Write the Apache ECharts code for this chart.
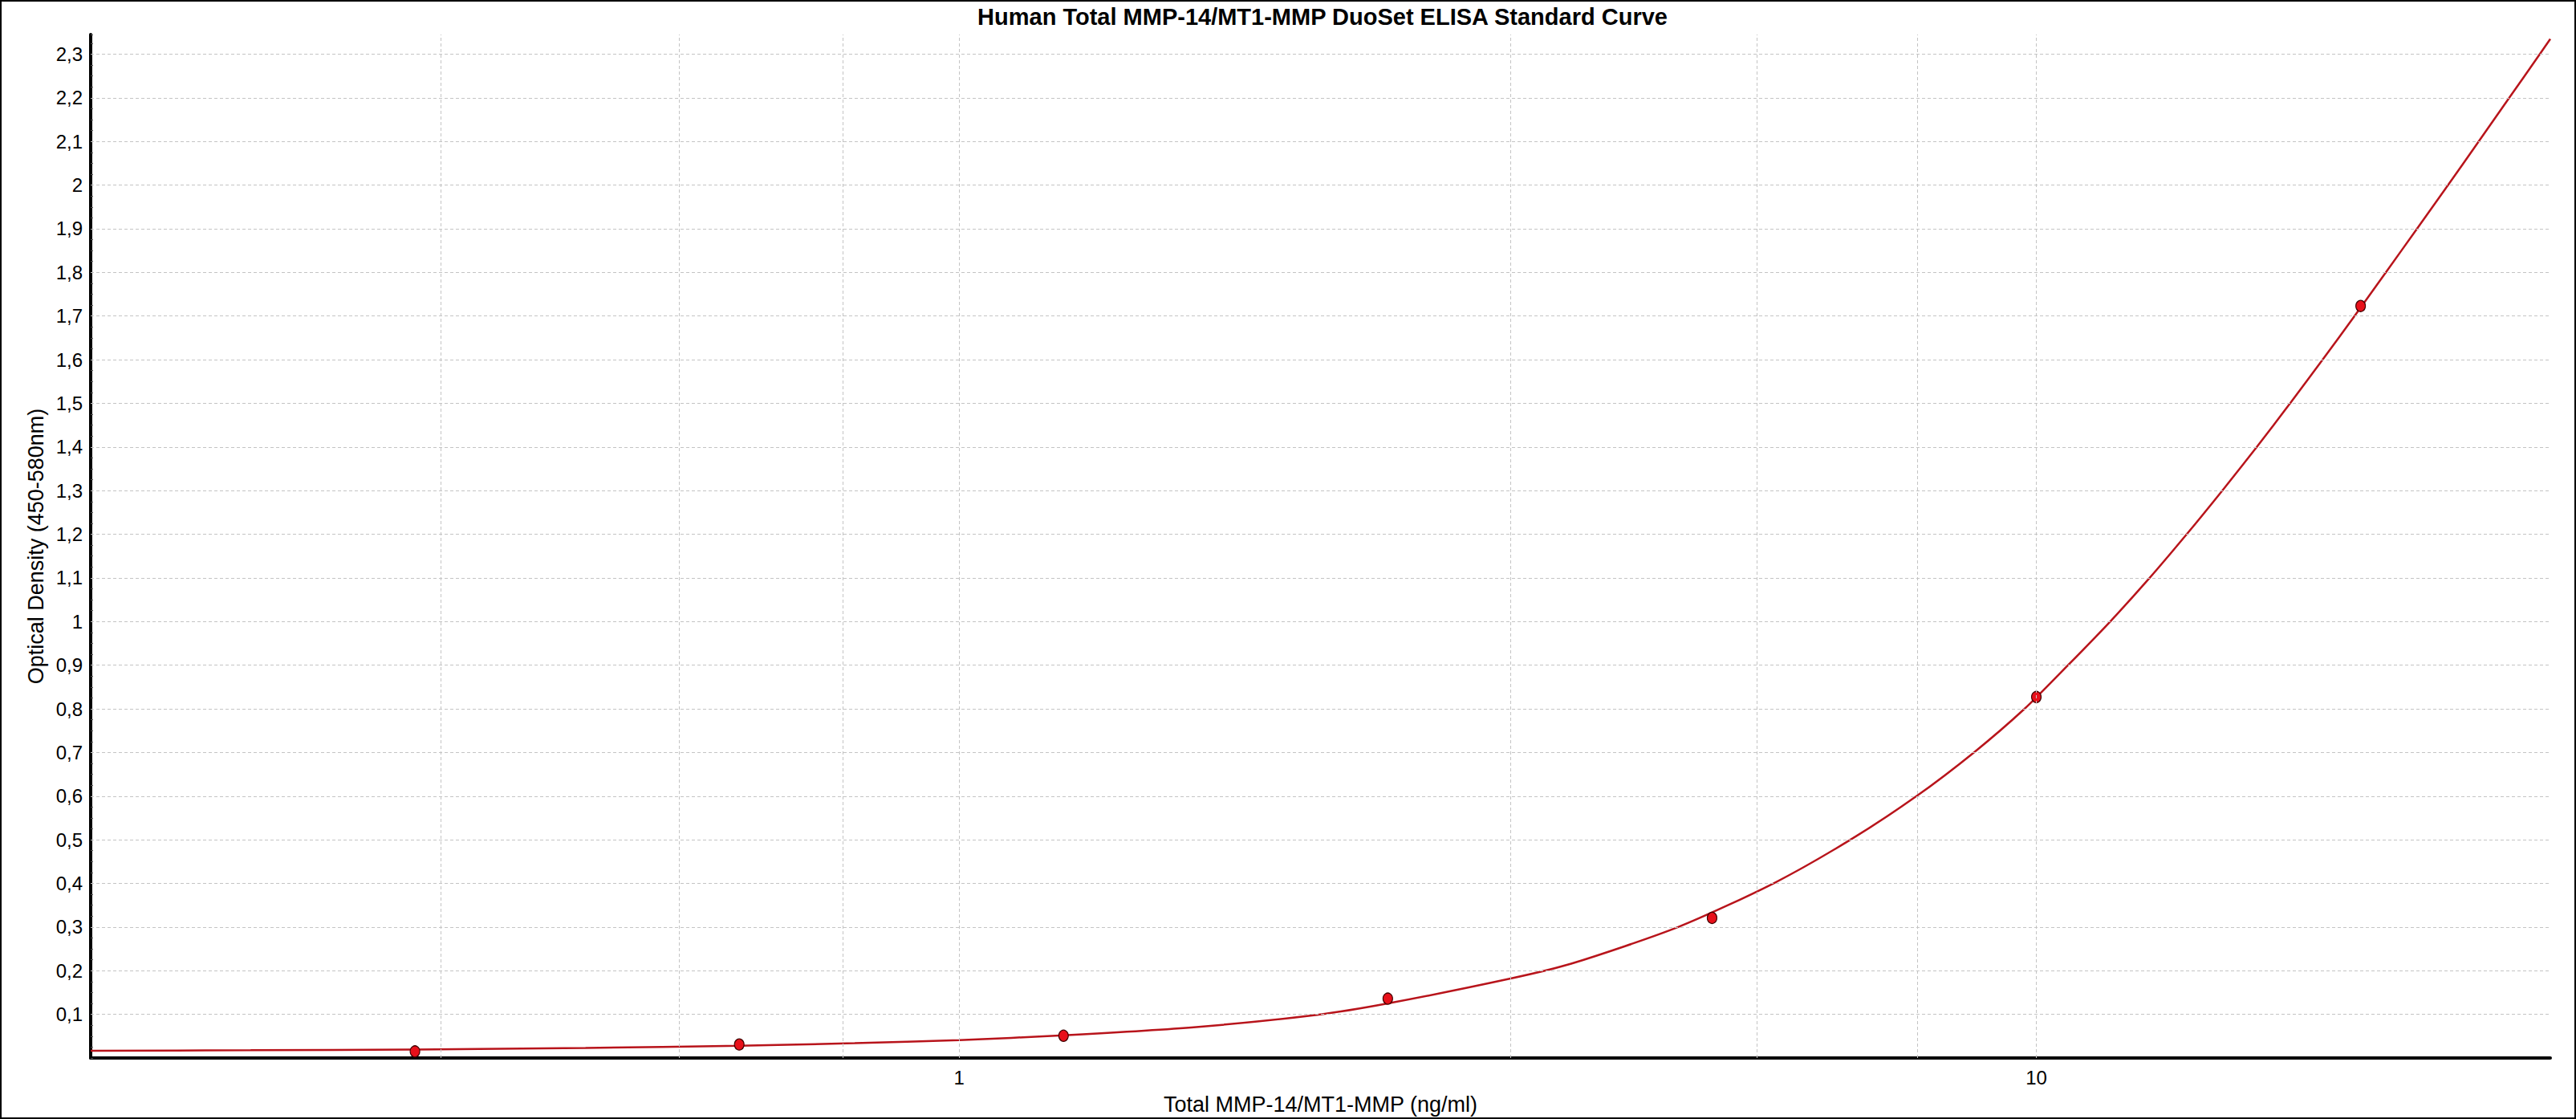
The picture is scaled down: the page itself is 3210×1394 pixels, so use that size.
<!DOCTYPE html>
<html>
<head>
<meta charset="utf-8">
<script src="https://cdn.jsdelivr.net/npm/echarts@6/dist/echarts.min.js"></script>
<style>
  html, body { margin: 0; padding: 0; background: #fff; }
  #wrap { position: relative; width: 3210px; height: 1394px; }
  #chart { position: absolute; left: 0; top: 0; width: 3210px; height: 1394px; }
  #frame { position: absolute; left: 0; top: 0; width: 3210px; height: 1394px; box-sizing: border-box; border: 2px solid #000; pointer-events: none; }
</style>
</head>
<body>
<div id="wrap"><div id="chart"></div><div id="frame"></div></div>
<script>
// ---- data ----
const chartTitle = 'Human Total MMP-14/MT1-MMP DuoSet ELISA Standard Curve';
const xAxisTitle = 'Total MMP-14/MT1-MMP (ng/ml)';
const yAxisTitle = 'Optical Density (450-580nm)';

// standards (ng/ml) and measured OD
const stdConc = [0.3125, 0.625, 1.25, 2.5, 5, 10, 20];
const stdOD   = [0.015, 0.031, 0.051, 0.136, 0.321, 0.827, 1.723];

// fitted curve
const curveConc = [0.15625, 0.22, 0.3125, 0.45, 0.625, 0.8, 1, 1.25, 1.66, 2.15, 2.5, 3.25, 3.7, 4.65, 5.7, 6.72, 7.74, 8.75, 9.75, 10.7, 11.71, 12.74, 13.79, 14.88, 16.02, 17.2, 18.44, 19.74, 21.11, 22.56, 24.11, 25.74, 27.48, 29.33, 30];
const curveOD   = [0.0165, 0.0178, 0.0195, 0.0232, 0.028, 0.034, 0.041, 0.052, 0.071, 0.099, 0.125, 0.182, 0.216, 0.3, 0.4, 0.5, 0.6, 0.7, 0.8, 0.9, 1.0, 1.1, 1.2, 1.3, 1.4, 1.5, 1.6, 1.7, 1.8, 1.9, 2.0, 2.1, 2.2, 2.3, 2.335];

// axis ranges, tick labels and grid positions
const xMin = 0.15625, xMax = 30;
const yMin = 0, yMax = 2.345;
const xLabelValues = [1, 10];
const xGridValues = [0.325, 0.55, 0.775, 1, 3.25, 5.5, 7.75, 10];
const yGridValues = [0.1, 0.2, 0.3, 0.4, 0.5, 0.6, 0.7, 0.8, 0.9, 1.0, 1.1, 1.2, 1.3, 1.4, 1.5, 1.6, 1.7, 1.8, 1.9, 2.0, 2.1, 2.2, 2.3];

// ---- chart ----
const FONT = '"Liberation Sans", Arial, sans-serif';
const chart = echarts.init(document.getElementById('chart'), null, { renderer: 'svg' });

const gridLine = { type: [4, 3], color: '#c4c4c4', width: 1 };

chart.setOption({
  animation: false,
  backgroundColor: '#fff',
  grid: { left: 113, right: 32, top: 43, bottom: 74 },
  graphic: [{
    type: 'text', x: 1648, y: 21, silent: true,
    style: { text: chartTitle, fontFamily: FONT, fontSize: 29, fontWeight: 'bold', fill: '#000', align: 'center', verticalAlign: 'middle' }
  }],
  xAxis: {
    type: 'log', logBase: 10, min: xMin, max: xMax,
    name: xAxisTitle, nameLocation: 'middle', nameGap: 44,
    nameTextStyle: { fontFamily: FONT, fontSize: 27, color: '#000' },
    axisLine: { show: true, onZero: false, lineStyle: { color: '#000', width: 4 } },
    axisTick: { show: false },
    splitLine: { show: false },
    minorTick: { show: false },
    axisLabel: {
      margin: 12, fontFamily: FONT, fontSize: 24, color: '#000000',
      showMinLabel: true, showMaxLabel: true,
      formatter: function (v) {
        for (const t of xLabelValues) { if (Math.abs(v - t) / t < 1e-6) return '{k|' + t + '}'; }
        return '';
      },
      rich: { k: { fontFamily: FONT, fontSize: 24, color: '#000000' } }
    }
  },
  yAxis: {
    type: 'value', min: yMin, max: yMax, interval: 0.1,
    name: yAxisTitle, nameLocation: 'middle', nameGap: 50,
    nameTextStyle: { fontFamily: FONT, fontSize: 27, color: '#000' },
    axisLine: { show: true, lineStyle: { color: '#000', width: 4 } },
    axisTick: { show: true, inside: true, length: 3, lineStyle: { color: '#555', width: 1 } },
    minorTick: { show: true, splitNumber: 4, length: 3, lineStyle: { color: '#555', width: 1 } },
    splitLine: { show: false },
    axisLabel: {
      margin: 10, fontFamily: FONT, fontSize: 24, color: '#000',
      formatter: function (v) {
        const r = Math.round(v * 10) / 10;
        if (r < 0.05 || Math.abs(v - r) > 1e-6) return '';
        return String(r).replace('.', ',');
      }
    }
  },
  series: [
    {
      type: 'line', name: 'grid', data: [], silent: true, z: 1,
      markLine: {
        silent: true, symbol: ['none', 'none'], animation: false,
        label: { show: false },
        lineStyle: gridLine,
        emphasis: { disabled: true },
        data: xGridValues.map(v => ({ xAxis: v })).concat(yGridValues.map(v => ({ yAxis: v })))
      }
    },
    {
      type: 'line', name: 'Curve', z: 3,
      data: curveConc.map((c, i) => [c, curveOD[i]]),
      showSymbol: false, smooth: 0.25,
      lineStyle: { color: '#b8141b', width: 2.5 },
      itemStyle: { color: '#b8141b' }
    },
    {
      type: 'scatter', name: 'Standards', z: 4,
      data: stdConc.map((c, i) => [c, stdOD[i]]),
      symbol: 'circle', symbolSize: [12, 14],
      itemStyle: { color: '#e8101a', borderColor: '#400000', borderWidth: 1.2, opacity: 1 }
    }
  ]
});
</script>
</body>
</html>
